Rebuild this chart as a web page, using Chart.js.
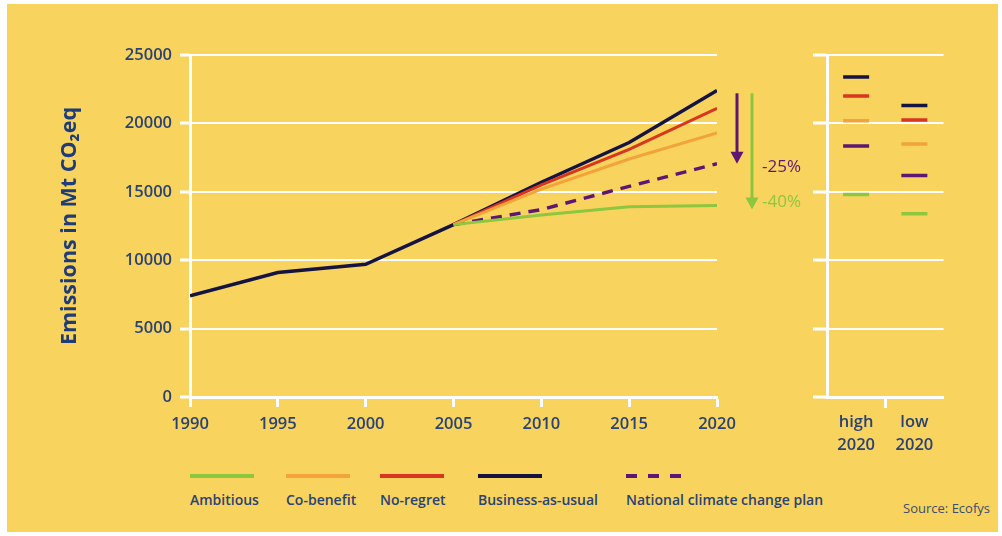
<!DOCTYPE html>
<html>
<head>
<meta charset="utf-8">
<script src="https://cdn.jsdelivr.net/npm/chart.js@4.4.1/dist/chart.umd.min.js"></script>
<style>
  html, body { margin: 0; padding: 0; background: #fff; }
  #wrap { position: relative; width: 1002px; height: 536px; overflow: hidden; }
  #panel { position: absolute; left: 7px; top: 4px; width: 991px; height: 528px; background: #F8D45F; }
  #mainBox { position: absolute; left: 0; top: 0; width: 810px; height: 440px; }
  #sideBox { position: absolute; left: 810px; top: 0; width: 150px; height: 470px; }
  .legend { position: absolute; top: 474px; font-family: "Open Sans", sans-serif; font-weight: 600;
            font-size: 14px; color: #2B4274; }
  .legend .sw { height: 4px; width: 64px; margin-bottom: 12px; }
  .legend .dash { width: 60px; height: 4px; margin-bottom: 12px;
                  background: repeating-linear-gradient(90deg, #5E1672 0 11px, transparent 11px 22px); }
  #source { position: absolute; right: 12px; top: 499px; font-family: "Open Sans", sans-serif;
            font-size: 13px; color: #3D4C6E; }
</style>
</head>
<body>
<div id="wrap">
  <div id="panel"></div>
  <div id="mainBox"><canvas id="mainChart"></canvas></div>
  <div id="sideBox"><canvas id="sideChart"></canvas></div>

  <div class="legend" style="left:190px"><div class="sw" style="background:#8DC63F"></div>Ambitious</div>
  <div class="legend" style="left:286px"><div class="sw" style="background:#F2A33A"></div>Co-benefit</div>
  <div class="legend" style="left:380px"><div class="sw" style="background:#D9361F"></div>No-regret</div>
  <div class="legend" style="left:478px"><div class="sw" style="background:#15133F"></div>Business-as-usual</div>
  <div class="legend" style="left:626px"><div class="dash"></div>National climate change plan</div>
  <div id="source">Source: Ecofys</div>
</div>

<script>
// ---------- Data ----------
const histYears = [1990, 1995, 2000, 2005];
const histValues = [7400, 9100, 9700, 12600];

const scenYears = [2005, 2010, 2015, 2020];
const businessAsUsual = [12600, 15700, 18600, 22400];
const noRegret = [12600, 15500, 18100, 21100];
const coBenefit = [12600, 15200, 17400, 19300];
const nationalPlan = [12600, 13700, 15400, 17050];
const ambitious = [12600, 13300, 13900, 14000];

const rangeLabels = [['high', '2020'], ['low', '2020']];
const bauRange = [23400, 21300];
const noRegretRange = [22000, 20250];
const coBenefitRange = [20200, 18500];
const nationalRange = [18350, 16200];
const ambitiousRange = [14800, 13400];

const xTicks = [1990, 1995, 2000, 2005, 2010, 2015, 2020];
const yTicks = [0, 5000, 10000, 15000, 20000, 25000];
const reductionLabels = ['-25%', '-40%'];

// ---------- Styles ----------
const C = {
  bau: '#15133F', red: '#D9361F', orange: '#F2A33A', green: '#8DC63F', purple: '#5E1672',
  text: '#2B4274', title: '#1F3C78', white: '#FFFFFF'
};
const FONT = '"Open Sans", sans-serif';
const TICK_FONT = { family: FONT, size: 16.5, weight: '600' };

function pts(xs, ys){ return xs.map((x, i) => ({ x, y: ys[i] })); }

function lineDs(data, color, width, dash){
  return { data, borderColor: color, borderWidth: width, pointRadius: 0, tension: 0,
           fill: false, borderDash: dash || [], borderCapStyle: 'butt' };
}

// y axis shared by both panels
function yAxis(showLabels, width, tickLen){
  return {
    min: 0, max: 25000,
    afterBuildTicks: ax => { ax.ticks = yTicks.map(v => ({ value: v })); },
    afterFit: ax => { ax.width = width; },
    border: { color: C.white, width: 3 },
    grid: { color: C.white, lineWidth: 2, tickLength: tickLen, tickWidth: 3 },
    ticks: {
      display: showLabels, padding: 8, color: C.text, font: TICK_FONT,
      callback: v => String(v)
    }
  };
}

// arrows with percentage labels to the right of the 2020 values
const arrowPlugin = {
  id: 'reductionArrows',
  afterDraw(chart){
    const { ctx, scales: { x, y } } = chart;
    const x2020 = x.getPixelForValue(2020);
    const top = y.getPixelForValue(22200);
    const arrows = [
      { dx: 20, to: nationalPlan[3], color: C.purple, label: reductionLabels[0], ly: 3 },
      { dx: 35, to: ambitious[3] - 300, color: C.green, label: reductionLabels[1], ly: -7 }
    ];
    ctx.save();
    arrows.forEach(a => {
      const ax = x2020 + a.dx;
      const tip = y.getPixelForValue(a.to);
      ctx.strokeStyle = a.color;
      ctx.fillStyle = a.color;
      ctx.lineWidth = 3;
      ctx.beginPath();
      ctx.moveTo(ax, top);
      ctx.lineTo(ax, tip - 10);
      ctx.stroke();
      ctx.beginPath();
      ctx.moveTo(ax - 6.5, tip - 12);
      ctx.lineTo(ax + 6.5, tip - 12);
      ctx.lineTo(ax, tip);
      ctx.closePath();
      ctx.fill();
      ctx.font = '17px ' + FONT;
      ctx.textBaseline = 'middle';
      ctx.textAlign = 'left';
      ctx.fillText(a.label, x2020 + 45, tip + a.ly);
    });
    ctx.restore();
  }
};

// ---------- Main chart ----------
new Chart(document.getElementById('mainChart'), {
  type: 'line',
  data: {
    datasets: [
      lineDs(pts(scenYears, ambitious), C.green, 3),
      lineDs(pts(scenYears, coBenefit), C.orange, 3),
      lineDs(pts(scenYears, noRegret), C.red, 3),
      lineDs(pts(scenYears, nationalPlan), C.purple, 3.5, [11, 8]),
      lineDs(pts(scenYears, businessAsUsual), C.bau, 3.5),
      lineDs(pts(histYears, histValues), C.bau, 3.5)
    ]
  },
  options: {
    responsive: true, maintainAspectRatio: false, animation: false,
    layout: { padding: { left: 0, right: 93, top: 55, bottom: 0 } },
    plugins: { legend: { display: false }, tooltip: { enabled: false } },
    scales: {
      x: {
        type: 'linear', min: 1990, max: 2020,
        afterBuildTicks: ax => { ax.ticks = xTicks.map(v => ({ value: v })); },
        afterFit: ax => { ax.height = 43; },
        border: { color: C.white, width: 3 },
        grid: { drawOnChartArea: false, color: C.white, tickLength: 10, tickWidth: 3 },
        ticks: { padding: 7, color: C.text, font: TICK_FONT,
                 callback: v => String(v), maxRotation: 0 }
      },
      y: Object.assign(yAxis(true, 190, 10), {
        title: { display: true, text: 'Emissions in Mt CO\u2082eq', color: C.title,
                 padding: { top: 57, bottom: 0 },
                 font: { family: FONT, size: 21.5, weight: 'bold' } }
      })
    }
  },
  plugins: [arrowPlugin]
});

// ---------- 2020 range panel ----------
function markDs(data, color){
  return { data, borderColor: color, backgroundColor: color, showLine: false,
           pointStyle: 'line', pointRadius: 13, pointBorderWidth: 3.5, pointHoverRadius: 13 };
}

new Chart(document.getElementById('sideChart'), {
  type: 'line',
  data: {
    labels: rangeLabels,
    datasets: [
      markDs(bauRange, C.bau),
      markDs(noRegretRange, C.red),
      markDs(coBenefitRange, C.orange),
      markDs(nationalRange, C.purple),
      markDs(ambitiousRange, C.green)
    ]
  },
  options: {
    responsive: true, maintainAspectRatio: false, animation: false,
    layout: { padding: { left: 0, right: 12, top: 55, bottom: 0 } },
    plugins: { legend: { display: false }, tooltip: { enabled: false } },
    scales: {
      x: {
        type: 'category', offset: true,
        afterFit: ax => { ax.height = 73; },
        border: { color: C.white, width: 3 },
        grid: { offset: true, drawOnChartArea: false, tickLength: 11, tickWidth: 3,
                color: ctx => ctx.index === 1 ? C.white : 'rgba(0,0,0,0)' },
        ticks: { padding: 3, color: C.text,
                 font: { family: FONT, size: 16.5, weight: '600', lineHeight: 1.4 } }
      },
      y: yAxis(false, 17, 14)
    }
  }
});
</script>
</body>
</html>
